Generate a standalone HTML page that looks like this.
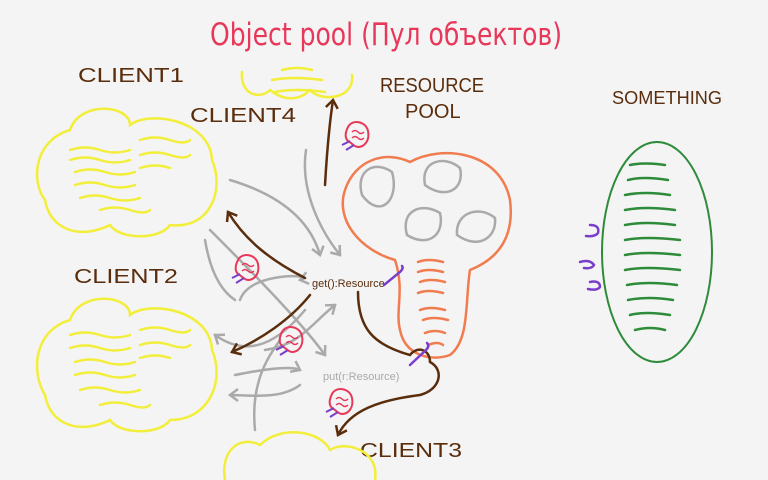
<!DOCTYPE html>
<html><head><meta charset="utf-8"><style>
html,body{margin:0;padding:0;background:#f4f4f4;}
svg{display:block}
text{font-family:"Liberation Sans","DejaVu Sans",sans-serif;}
</style></head><body>
<svg width="768" height="480" viewBox="0 0 768 480" xmlns="http://www.w3.org/2000/svg">
<rect width="768" height="480" fill="#f4f4f4"/>
<defs>
<marker id="ga" markerUnits="userSpaceOnUse" markerWidth="16" markerHeight="16" refX="10" refY="8" orient="auto"><path d="M2,2 L10,8 L2,14" fill="none" stroke="#aaa" stroke-width="2.5"/></marker>
<marker id="ba" markerUnits="userSpaceOnUse" markerWidth="16" markerHeight="16" refX="10" refY="8" orient="auto"><path d="M2,2 L10,8 L2,14" fill="none" stroke="#5a2d0c" stroke-width="2.5"/></marker>
<g id="bug"><path d="M-8,-8 C-4,-16 10,-14 12,-4 C14,6 8,12 2,12 C-2,12 -4,8 -8,6 C-12,2 -10,-4 -8,-8Z" fill="none" stroke="#e8385a" stroke-width="2"/><path d="M-4,-3 q3,-3 6,0 t6,0 M-4,3 q3,-3 6,0 t6,0" fill="none" stroke="#e8385a" stroke-width="1.5"/><path d="M-6,6 l-8,4 M-2,10 l-8,5" stroke="#7a3dcc" stroke-width="2"/></g>
</defs>
<text x="210" y="45" font-size="31" fill="#e8385a" textLength="352" lengthAdjust="spacingAndGlyphs" style="font-family:'DejaVu Sans',sans-serif">Object pool (Пул объектов)</text>
<g fill="#5a2d0c" font-size="20">
<text x="78" y="82" textLength="106" lengthAdjust="spacingAndGlyphs">CLIENT1</text>
<text x="190" y="122" textLength="106" lengthAdjust="spacingAndGlyphs">CLIENT4</text>
<text x="380" y="92" textLength="104" lengthAdjust="spacingAndGlyphs">RESOURCE</text>
<text x="405" y="118">POOL</text>
<text x="612" y="104" font-size="18" textLength="110" lengthAdjust="spacingAndGlyphs">SOMETHING</text>
<text x="74" y="283" textLength="104" lengthAdjust="spacingAndGlyphs">CLIENT2</text>
<text x="360" y="457" textLength="102" lengthAdjust="spacingAndGlyphs">CLIENT3</text>
</g>
<g fill="none" stroke="#f2ee3a" stroke-width="2.5" stroke-linecap="round">
<path d="M45,200 C30,180 35,140 70,130 C80,100 130,105 130,125 C150,110 210,120 212,160 C225,190 210,230 170,225 C160,240 120,240 110,225 C80,240 50,230 45,200Z"/>
<path d="M70,150 q15,-5 30,0 t30,0 M70,160 q15,-5 30,0 t30,0 M75,172 q15,-5 30,0 t30,0 M75,185 q15,-5 30,0 t30,0 M80,198 q15,-5 30,0 t30,0 M140,140 q15,-5 30,0 t20,0 M140,155 q15,-5 30,0 t20,0 M140,168 q15,-5 30,0 M100,210 q15,-5 30,0 t20,0"/>
<path d="M45,395 C30,370 35,330 70,320 C80,290 130,295 130,315 C150,300 210,310 212,350 C225,380 210,420 170,420 C160,435 120,435 110,420 C80,435 50,425 45,395Z"/>
<path d="M70,335 q15,-5 30,0 t30,0 M70,348 q15,-5 30,0 t30,0 M75,362 q15,-5 30,0 t30,0 M75,375 q15,-5 30,0 t30,0 M80,390 q15,-5 30,0 t30,0 M140,330 q15,-5 30,0 t20,0 M140,345 q15,-5 30,0 t20,0 M140,358 q15,-5 30,0 M100,405 q15,-5 30,0 t20,0"/>
<path d="M242,72 C240,95 260,100 270,90 C285,102 300,100 310,90 C320,102 355,100 352,75"/>
<path d="M272,80 q20,-4 50,0 M275,92 q20,-4 50,0 M282,70 q15,-4 30,0"/>
<path d="M225,480 C220,450 240,435 260,445 C280,425 320,430 330,450 C345,440 380,450 375,480"/>
</g>
<g fill="none" stroke="#f07c50" stroke-width="2.5" stroke-linecap="round">
<path d="M395,260 C360,250 335,220 345,190 C355,160 385,150 410,162 C440,145 500,150 510,200 C515,240 495,260 470,270 C465,300 470,340 450,355 C430,362 405,355 400,330 C395,310 405,290 395,260Z"/>
<path d="M418,262 q10,-4 25,0 M418,272 q10,-4 25,0 M420,282 q10,-4 25,0 M418,293 q10,-4 25,0 M420,310 q10,-4 25,0 M423,320 q10,-4 25,0 M425,333 q10,-4 20,0 M428,345 q10,-4 15,0"/>
</g>
<g fill="none" stroke="#aaa" stroke-width="2.5">
<path d="M362,195 C355,170 375,160 392,172 C400,200 380,220 362,195Z"/>
<path d="M425,185 C420,160 445,155 460,168 C465,190 445,200 425,185Z"/>
<path d="M407,235 C400,210 422,202 440,213 C445,235 428,248 407,235Z"/>
<path d="M457,235 C455,212 480,205 495,218 C497,238 478,250 457,235Z"/>
</g>
<ellipse cx="657" cy="252" rx="55" ry="110" fill="none" stroke="#2e8b3a" stroke-width="2"/>
<g fill="none" stroke="#2e8b3a" stroke-width="2.5" stroke-linecap="round">
<path d="M630,165 q15,-3 35,0 M628,180 q15,-4 40,0 M625,195 q20,-4 45,0 M625,210 q20,-4 50,0 M625,225 q20,-4 50,0 M625,240 q20,-4 55,0 M625,255 q20,-4 55,0 M625,270 q20,-4 55,0 M627,285 q20,-4 50,0 M628,300 q20,-4 45,0 M630,315 q15,-4 40,0 M635,330 q15,-4 30,0"/>
</g>
<g fill="none" stroke="#aaa" stroke-width="2.5" stroke-linecap="round">
<path d="M230,180 C280,195 310,220 320,255" marker-end="url(#ga)"/>
<path d="M306,150 C300,190 320,230 340,255" marker-end="url(#ga)"/>
<path d="M210,230 C240,260 300,320 325,355" marker-end="url(#ga)"/>
<path d="M240,300 C250,270 320,275 300,280" marker-end="url(#ga)"/>
<path d="M305,310 C280,340 250,360 215,335" marker-end="url(#ga)"/>
<path d="M265,350 C300,345 310,325 335,305" marker-end="url(#ga)"/>
<path d="M235,375 C260,370 290,365 300,370" marker-end="url(#ga)"/>
<path d="M300,385 C280,400 250,395 230,395" marker-end="url(#ga)"/>
<path d="M255,430 C250,380 270,355 280,340"/>
<path d="M205,240 C210,270 220,290 235,300"/>
</g>
<g fill="none" stroke="#5a2d0c" stroke-width="2.5" stroke-linecap="round">
<path d="M325,185 C327,150 330,120 333,100" marker-end="url(#ba)"/>
<path d="M305,278 C270,260 245,240 228,212" marker-end="url(#ba)"/>
<path d="M310,295 C290,320 260,340 232,352" marker-end="url(#ba)"/>
<path d="M358,292 C358,330 375,345 410,355 C418,345 430,350 430,362 C445,370 440,390 420,395 C380,400 350,410 338,435" marker-end="url(#ba)"/>
</g>
<text x="312" y="287" font-size="11" fill="#5a2d0c">get():Resource</text>
<text x="323" y="380" font-size="11" fill="#aaa">put(r:Resource)</text>
<use href="#bug" x="356" y="135"/>
<use href="#bug" x="246" y="268"/>
<use href="#bug" x="290" y="340"/>
<use href="#bug" x="340" y="402"/>
<g fill="none" stroke="#7a3dcc" stroke-width="2.5" stroke-linecap="round">
<path d="M384,285 L400,272 q4,-4 2,-6"/>
<path d="M410,365 L426,350 q4,-4 1,-7"/>
<path d="M590,225 q10,0 8,8 q-3,4 -12,3"/>
<path d="M580,262 q10,-3 14,3 q-2,4 -10,3"/>
<path d="M590,282 q10,-2 10,5 q-3,4 -12,2"/>
</g>
</svg>
</body></html>
